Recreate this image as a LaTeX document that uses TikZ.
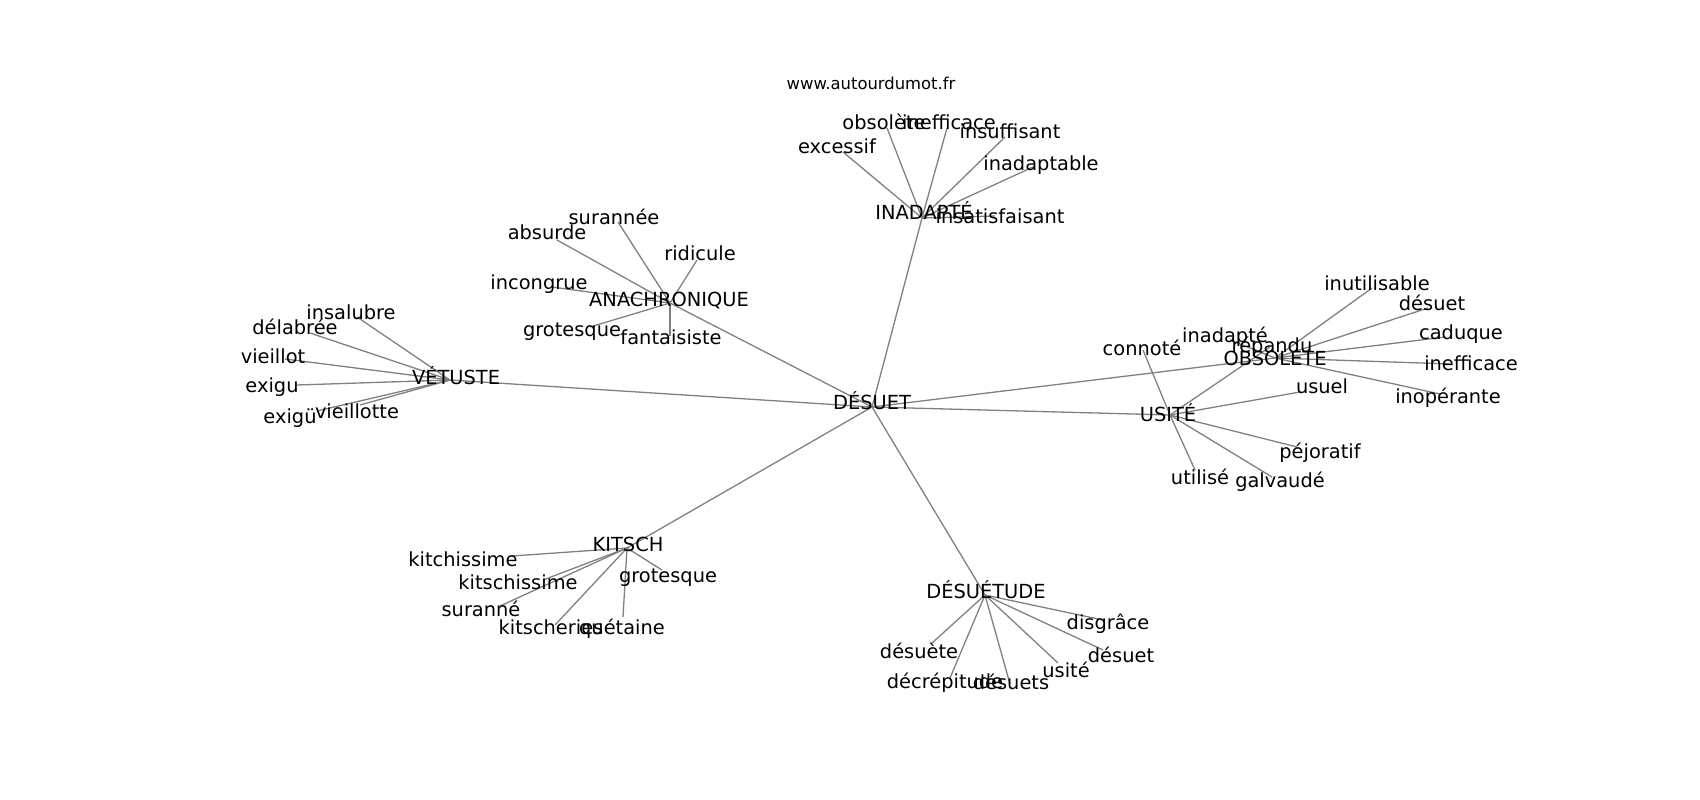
\documentclass[tikz,border=0pt]{standalone}
\usepackage{fontspec}
\setmainfont{DejaVu Sans}
\definecolor{edgegray}{HTML}{808080}
\begin{document}
\begin{tikzpicture}[x=1pt,y=-1pt,
  edge/.style={draw=edgegray,line width=1.3pt},
  lbl/.style={inner sep=0pt,anchor=base,yshift=-6.5pt,font=\fontsize{19.4}{23}\selectfont},
  small/.style={inner sep=0pt,anchor=base,yshift=-6pt,font=\fontsize{16.4}{20}\selectfont}]
\useasboundingbox (0,0) rectangle (1700,800);
% vertices (edge end points)
\coordinate (v-desuet) at (872,407);
\coordinate (v-inadapte) at (922,218);
\coordinate (v-anach) at (670,303);
\coordinate (v-vetuste) at (450,380);
\coordinate (v-obsolete) at (1275,358);
\coordinate (v-usite) at (1170,415);
\coordinate (v-kitsch) at (627,548);
\coordinate (v-desuetude) at (985,595);
% INADAPTE leaves
\coordinate (v-excessif) at (843,152);
\coordinate (v-obsolete2) at (887,128);
\coordinate (v-inefficace1) at (947,128);
\coordinate (v-insuffisant) at (1005,137);
\coordinate (v-inadaptable) at (1033,167);
\coordinate (v-insatisfaisant) at (995,216);
% ANACHRONIQUE leaves
\coordinate (v-surannee) at (618,222);
\coordinate (v-absurde) at (557,240);
\coordinate (v-ridicule) at (697,260);
\coordinate (v-incongrue) at (552,287);
\coordinate (v-grotesque1) at (590,327);
\coordinate (v-fantaisiste) at (670,336);
% VETUSTE leaves
\coordinate (v-insalubre) at (357,317);
\coordinate (v-delabree) at (310,333);
\coordinate (v-vieillot) at (285,359);
\coordinate (v-exigu) at (297,385);
\coordinate (v-exigu2) at (317,411);
\coordinate (v-vieillotte) at (360,405);
% OBSOLETE leaves
\coordinate (v-inutilisable) at (1372,288);
\coordinate (v-desuet2) at (1428,308);
\coordinate (v-caduque) at (1445,337);
\coordinate (v-inefficace2) at (1450,364);
\coordinate (v-inoperante) at (1440,394);
\coordinate (v-inadapte2) at (1230,340);
% USITE leaves
\coordinate (v-repandu) at (1270,347);
\coordinate (v-connote) at (1143,350);
\coordinate (v-usuel) at (1300,392);
\coordinate (v-pejoratif) at (1297,447);
\coordinate (v-utilise) at (1195,470);
\coordinate (v-galvaude) at (1272,477);
% KITSCH leaves
\coordinate (v-kitchissime) at (512,556);
\coordinate (v-kitschissime) at (543,580);
\coordinate (v-suranne) at (500,606);
\coordinate (v-grotesque2) at (662,570);
\coordinate (v-kitscheries) at (555,625);
\coordinate (v-quetaine) at (623,617);
% DESUETUDE leaves
\coordinate (v-desuete) at (932,643);
\coordinate (v-decrepitude) at (950,678);
\coordinate (v-desuets) at (1010,684);
\coordinate (v-usite2) at (1058,663);
\coordinate (v-disgrace) at (1103,620);
\coordinate (v-desuet3) at (1103,650);

% edges
\foreach \a/\b in {desuet/inadapte,desuet/anach,desuet/vetuste,desuet/obsolete,desuet/usite,desuet/kitsch,desuet/desuetude,
  inadapte/excessif,inadapte/obsolete2,inadapte/inefficace1,inadapte/insuffisant,inadapte/inadaptable,inadapte/insatisfaisant,
  anach/surannee,anach/absurde,anach/ridicule,anach/incongrue,anach/grotesque1,anach/fantaisiste,
  vetuste/insalubre,vetuste/delabree,vetuste/vieillot,vetuste/exigu,vetuste/exigu2,vetuste/vieillotte,
  obsolete/inutilisable,obsolete/desuet2,obsolete/caduque,obsolete/inefficace2,obsolete/inoperante,obsolete/inadapte2,
  usite/repandu,usite/connote,usite/usuel,usite/pejoratif,usite/utilise,usite/galvaude,
  kitsch/kitchissime,kitsch/kitschissime,kitsch/suranne,kitsch/grotesque2,kitsch/kitscheries,kitsch/quetaine,
  desuetude/desuete,desuetude/decrepitude,desuetude/desuets,desuetude/usite2,desuetude/disgrace,desuetude/desuet3}
  \draw[edge] (v-\a) -- (v-\b);

% labels
\node[small] (www) at (871,83) {www.autourdumot.fr};
\node[lbl] (desuet) at (872,403) {DÉSUET};
\node[lbl] (inadapte) at (924,213) {INADAPTÉ};
\node[lbl] (anach) at (669,300) {ANACHRONIQUE};
\node[lbl] (vetuste) at (456,378) {VÉTUSTE};
\node[lbl] (obsolete) at (1275,359) {OBSOLETE};
\node[lbl] (usite) at (1168,415) {USITÉ};
\node[lbl] (kitsch) at (628,545) {KITSCH};
\node[lbl] (desuetude) at (986,592) {DÉSUÉTUDE};

\node[lbl] (excessif) at (837,147) {excessif};
\node[lbl] (obsolete2) at (884,123) {obsolète};
\node[lbl] (inefficace1) at (949,123) {inefficace};
\node[lbl] (insuffisant) at (1010,132) {insuffisant};
\node[lbl] (inadaptable) at (1041,164) {inadaptable};
\node[lbl] (insatisfaisant) at (1000,217) {insatisfaisant};

\node[lbl] (surannee) at (614,218) {surannée};
\node[lbl] (absurde) at (547,233) {absurde};
\node[lbl] (ridicule) at (700,254) {ridicule};
\node[lbl] (incongrue) at (539,283) {incongrue};
\node[lbl] (grotesque1) at (572,330) {grotesque};
\node[lbl] (fantaisiste) at (671,338) {fantaisiste};

\node[lbl] (insalubre) at (351,313) {insalubre};
\node[lbl] (delabree) at (295,328) {délabrée};
\node[lbl] (vieillot) at (273,357) {vieillot};
\node[lbl] (exigu) at (272,386) {exigu};
\node[lbl] (exigu2) at (290,417) {exigü};
\node[lbl] (vieillotte) at (357,412) {vieillotte};

\node[lbl] (inutilisable) at (1377,284) {inutilisable};
\node[lbl] (desuet2) at (1432,304) {désuet};
\node[lbl] (caduque) at (1461,333) {caduque};
\node[lbl] (inefficace2) at (1471,364) {inefficace};
\node[lbl] (inoperante) at (1448,397) {inopérante};
\node[lbl] (inadapte2) at (1225,336) {inadapté};

\node[lbl] (repandu) at (1272,346) {répandu};
\node[lbl] (connote) at (1142,349) {connoté};
\node[lbl] (usuel) at (1322,387) {usuel};
\node[lbl] (pejoratif) at (1320,452) {péjoratif};
\node[lbl] (utilise) at (1200,478) {utilisé};
\node[lbl] (galvaude) at (1280,481) {galvaudé};

\node[lbl] (kitchissime) at (463,560) {kitchissime};
\node[lbl] (kitschissime) at (518,583) {kitschissime};
\node[lbl] (suranne) at (481,610) {suranné};
\node[lbl] (grotesque2) at (668,576) {grotesque};
\node[lbl] (kitscheries) at (551,628) {kitscheries};
\node[lbl] (quetaine) at (622,628) {quétaine};

\node[lbl] (desuete) at (919,652) {désuète};
\node[lbl] (decrepitude) at (945,682) {décrépitude};
\node[lbl] (desuets) at (1011,683) {désuets};
\node[lbl] (usite2) at (1066,671) {usité};
\node[lbl] (disgrace) at (1108,623) {disgrâce};
\node[lbl] (desuet3) at (1121,656) {désuet};
\end{tikzpicture}
\end{document}
